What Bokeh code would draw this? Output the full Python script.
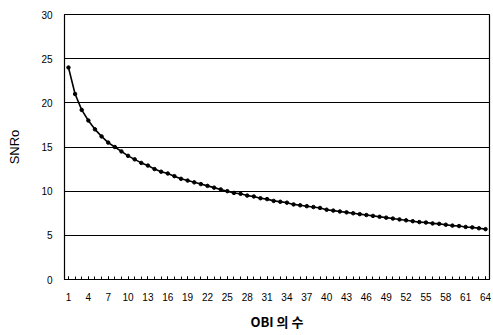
from bokeh.plotting import figure
from bokeh.models import FixedTicker, Range1d
from bokeh.embed import file_html
from bokeh.resources import INLINE

obi = list(range(1, 65))
snro = [24.0, 21.0, 19.2, 18.0, 17.0, 16.2, 15.5, 15.0, 14.5, 14.0,
        13.6, 13.2, 12.9, 12.5, 12.2, 12.0, 11.7, 11.4, 11.2, 11.0,
        10.8, 10.6, 10.4, 10.2, 10.0, 9.8, 9.7, 9.5, 9.4, 9.2,
        9.1, 8.9, 8.8, 8.7, 8.5, 8.4, 8.3, 8.2, 8.1, 7.9,
        7.8, 7.7, 7.6, 7.5, 7.4, 7.3, 7.2, 7.1, 7.0, 6.9,
        6.8, 6.7, 6.6, 6.5, 6.45, 6.35, 6.3, 6.2, 6.1, 6.05,
        5.95, 5.9, 5.8, 5.7]
x_tick_labels = list(range(1, 65, 3))
y_ticks = [0, 5, 10, 15, 20, 25, 30]

p = figure(width=491, height=333, output_backend="svg", toolbar_location=None,
           x_range=Range1d(0.4, 64.6), y_range=Range1d(0, 30),
           min_border_left=64, min_border_right=2, min_border_top=14, min_border_bottom=10)

p.outline_line_color = "black"
p.outline_line_width = 1.2
p.xgrid.visible = False
p.ygrid.grid_line_color = "black"
p.ygrid.grid_line_width = 1
p.ygrid.ticker = FixedTicker(ticks=y_ticks)

p.xaxis.ticker = FixedTicker(ticks=x_tick_labels, minor_ticks=obi)
p.xaxis.major_tick_in = 3
p.xaxis.major_tick_out = 0
p.xaxis.minor_tick_in = 3
p.xaxis.minor_tick_out = 0
p.xaxis.axis_line_color = "black"
p.xaxis.major_label_text_font = "Liberation Sans"
p.xaxis.major_label_text_font_size = "10px"
p.xaxis.major_label_text_color = "black"
p.xaxis.major_label_standoff = 13
p.xaxis.axis_label = "OBI 의 수"
p.xaxis.axis_label_text_font = "Noto Sans CJK KR"
p.xaxis.axis_label_text_font_style = "bold"
p.xaxis.axis_label_text_font_size = "13px"
p.xaxis.axis_label_text_color = "black"
p.xaxis.axis_label_standoff = 8

p.yaxis.ticker = FixedTicker(ticks=y_ticks)
p.yaxis.major_tick_in = 0
p.yaxis.major_tick_out = 0
p.yaxis.minor_tick_line_color = None
p.yaxis.axis_line_color = "black"
p.yaxis.major_label_text_font = "Liberation Sans"
p.yaxis.major_label_text_font_size = "10px"
p.yaxis.major_label_text_color = "black"
p.yaxis.major_label_standoff = 12
p.yaxis.axis_label = "SNRo"
p.yaxis.axis_label_text_font = "Liberation Sans"
p.yaxis.axis_label_text_font_style = "normal"
p.yaxis.axis_label_text_font_size = "13px"
p.yaxis.axis_label_text_color = "black"
p.yaxis.axis_label_standoff = 16

p.line(obi, snro, line_color="black", line_width=1.6)
p.scatter(obi, snro, size=3.5, color="black")

open("out.html", "w").write(file_html(p, INLINE))
